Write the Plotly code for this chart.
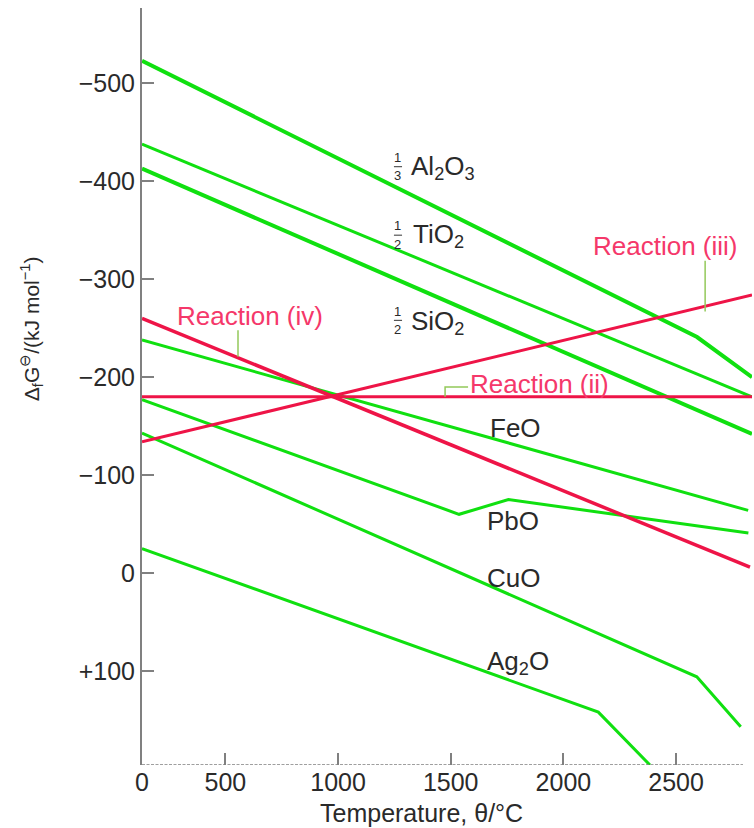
import plotly.graph_objects as go

# ---------------- data ----------------
# temperatures in deg C (left edge of the plot is labelled 0), dG in kJ/mol
al2o3_T = [130, 2593, 2837]
al2o3_G = [-523, -241, -200]

tio2_T = [130, 2837]
tio2_G = [-438, -180]

sio2_T = [130, 2837]
sio2_G = [-413, -142]

feo_T = [130, 2820]
feo_G = [-238, -64]

pbo_T = [130, 1537, 1756, 2821]
pbo_G = [-177, -60, -75, -41]

cuo_T = [130, 2592, 2787]
cuo_G = [-143, 106, 157]

ag2o_T = [130, 2155, 2384]
ag2o_G = [-25, 142, 196]

r2_T = [130, 2837]
r2_G = [-180, -180]

r3_T = [130, 2837]
r3_G = [-134, -284]

r4_T = [130, 2828]
r4_G = [-260, -6]

x_tickvals = [130, 500, 1000, 1500, 2000, 2500]
x_ticktext = ["0", "500", "1000", "1500", "2000", "2500"]
y_tickvals = [-500, -400, -300, -200, -100, 0, 100]
y_ticktext = ["\u2212500", "\u2212400", "\u2212300", "\u2212200", "\u2212100", "0", "+100"]

X_RANGE = [130, 2837]
Y_RANGE = [196, -577]

# ---------------- styling ----------------
GREEN = "#10e010"
RED = "#ee1447"
PINK = "#f5386a"
LEADER = "#93c95a"
TXT = "#2a2a2a"
AXIS = "#808080"
FONT = "Liberation Sans, Arial, sans-serif"

fig = go.Figure()

def add_line(T, G, color, width):
    fig.add_trace(go.Scatter(x=T, y=G, mode="lines",
                             line=dict(color=color, width=width),
                             showlegend=False, hoverinfo="skip"))

add_line(al2o3_T, al2o3_G, GREEN, 4)
add_line(tio2_T, tio2_G, GREEN, 3)
add_line(sio2_T, sio2_G, GREEN, 4)
add_line(feo_T, feo_G, GREEN, 3)
add_line(pbo_T, pbo_G, GREEN, 3)
add_line(cuo_T, cuo_G, GREEN, 3)
add_line(ag2o_T, ag2o_G, GREEN, 3)
add_line(r2_T, r2_G, RED, 3)
add_line(r3_T, r3_G, RED, 3)
add_line(r4_T, r4_G, RED, 3.5)

annotations = []

def label(x, y, text, size=26, color=TXT, anchor="left"):
    annotations.append(dict(x=x, y=y, xref="x", yref="y", text=text, showarrow=False,
                            xanchor=anchor, yanchor="middle", borderpad=0,
                            font=dict(family=FONT, size=size, color=color)))

shapes = []

def fraction(x, y, den):
    label(x, y - 9.5, "1", size=13, anchor="center")
    label(x, y + 9.5, den, size=13, anchor="center")
    shapes.append(dict(type="line", xref="x", yref="y", x0=x - 18, x1=x + 18, y0=y, y1=y,
                       line=dict(color="#555555", width=1.2)))

label(1318, -414, "Al<sub>2</sub>O<sub>3</sub>")
fraction(1266, -415, "3")
label(1326, -345, "TiO<sub>2</sub>")
fraction(1266, -345, "2")
label(1318, -256, "SiO<sub>2</sub>")
fraction(1266, -258, "2")
label(1670, -148, "FeO")
label(1657, -53, "PbO")
label(1657, 5, "CuO")
label(1657, 91, "Ag<sub>2</sub>O")

label(2128, -334, "Reaction (iii)", color=PINK)
label(282, -263, "Reaction (iv)", color=PINK)
label(1582, -193, "Reaction (ii)", color=PINK)

# leader lines
shapes.append(dict(type="line", xref="x", yref="y", x0=556, x1=556, y0=-248, y1=-221,
                   line=dict(color=LEADER, width=1.5)))
shapes.append(dict(type="line", xref="x", yref="y", x0=2629, x1=2629, y0=-319, y1=-267,
                   line=dict(color=LEADER, width=1.5)))
shapes.append(dict(type="path", xref="x", yref="y",
                   path="M 1475 -180 L 1475 -190 L 1577 -190",
                   line=dict(color=LEADER, width=1.5)))

# bottom axis line (dotted look)
shapes.append(dict(type="line", xref="x", yref="y", x0=130, x1=2797, y0=196, y1=196,
                   line=dict(color=AXIS, width=1.5, dash="3px,1.5px")))

# axis titles
annotations.append(dict(x=0.459, y=-0.064, xref="paper", yref="paper",
                        text="Temperature, \u03b8/\u00b0C", showarrow=False,
                        xanchor="center", yanchor="middle",
                        font=dict(family=FONT, size=25, color=TXT)))
annotations.append(dict(x=-0.182, y=0.577, xref="paper", yref="paper",
                        text="\u0394<sub>f</sub>G<sup>\u2296</sup>/(kJ mol<sup>\u22121</sup>)",
                        showarrow=False, textangle=-90,
                        xanchor="center", yanchor="middle",
                        font=dict(family=FONT, size=21, color=TXT)))

fig.update_layout(
    width=754, height=828,
    margin=dict(l=142, r=2, t=8, b=63),
    paper_bgcolor="white", plot_bgcolor="white",
    annotations=annotations, shapes=shapes,
    xaxis=dict(range=X_RANGE, tickvals=x_tickvals, ticktext=x_ticktext,
               showgrid=False, zeroline=False, showline=False,
               ticks="inside", ticklen=12, tickcolor=AXIS, tickwidth=1.5,
               tickfont=dict(family=FONT, size=25, color=TXT)),
    yaxis=dict(range=Y_RANGE, tickvals=y_tickvals, ticktext=y_ticktext,
               showgrid=False, zeroline=False, showline=True, linecolor=AXIS, linewidth=2,
               ticks="inside", ticklen=12, tickcolor=AXIS, tickwidth=1.5,
               tickfont=dict(family=FONT, size=25, color=TXT)),
)

fig.write_html("out.html")
